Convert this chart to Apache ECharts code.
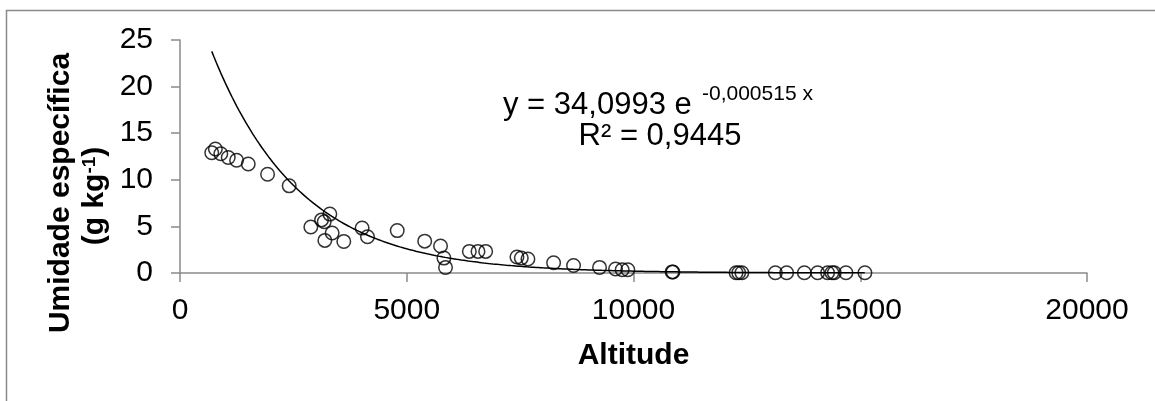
<!DOCTYPE html>
<html>
<head>
<meta charset="utf-8">
<script src="https://cdn.jsdelivr.net/npm/echarts@6/dist/echarts.min.js"></script>
<style>
  html, body { margin: 0; padding: 0; background: #fff; }
  #main { width: 1155px; height: 401px; }
</style>
</head>
<body>
<div id="main"></div>
<script>
// data
const altitude = [700, 780, 900, 1064, 1248, 1505, 1931, 2408, 2885, 3121, 3180, 3304, 3355, 3194, 3612,
  4016, 4134, 4790, 5396, 5745, 5820, 5855, 6380, 6571, 6740, 7430, 7526, 7672, 8238, 8678, 9251,
  9604, 9750, 9875, 10852, 10870, 12262, 12320, 12390, 13128, 13377, 13767, 14060, 14280, 14376,
  14427, 14685, 15103]
const humidity = [12.9, 13.3, 12.8, 12.4, 12.1, 11.7, 10.6, 9.35, 4.93, 5.7, 5.5, 6.32, 4.29, 3.5, 3.39,
  4.82, 3.89, 4.55, 3.42, 2.9, 1.6, 0.6, 2.32, 2.32, 2.32, 1.71, 1.6, 1.5, 1.1, 0.8, 0.6,
  0.43, 0.35, 0.35, 0.12, 0.1, 0.03, 0.03, 0.03, 0.02, 0.02, 0.02, 0.02, 0.02, 0.02,
  0.02, 0.02, 0.02]

// exponential fit shown on the chart
const fitA = 34.0993
const fitB = -0.000515
const fitFrom = 700
const fitTo = 15100

const eqLine1 = "y = 34,0993 e"
const eqSup = "-0,000515 x"
const eqLine2 = "R² = 0,9445"

const trend = []
for (let x = fitFrom; x <= fitTo; x += 50) trend.push([x, fitA * Math.exp(fitB * x)])

const font = "Liberation Sans, Arial, sans-serif"
const axisGray = "#8a8a8a"

const myChart = echarts.init(document.getElementById("main"))

myChart.setOption({
  animation: false,
  grid: { left: 180, top: 40, right: 68, bottom: 128 },
  xAxis: {
    type: "value", min: 0, max: 20000, interval: 5000,
    axisLine: { lineStyle: { color: axisGray, width: 1.5 } },
    axisTick: { length: 9, lineStyle: { color: axisGray, width: 1.5 } },
    axisLabel: { color: "#000", fontSize: 30, fontFamily: font, margin: 23, formatter: v => String(v) },
    splitLine: { show: false }
  },
  yAxis: {
    type: "value", min: 0, max: 25, interval: 5,
    axisLine: { show: true, lineStyle: { color: axisGray, width: 1.5 } },
    axisTick: { show: true, length: 9, lineStyle: { color: axisGray, width: 1.5 } },
    axisLabel: { color: "#000", fontSize: 30, fontFamily: font, margin: 27 },
    splitLine: { show: false }
  },
  series: [
    {
      type: "line",
      data: trend,
      showSymbol: false,
      lineStyle: { color: "#000", width: 1.5 },
      z: 2
    },
    {
      type: "scatter",
      data: altitude.map((x, i) => [x, humidity[i]]),
      symbol: "circle",
      symbolSize: 13.5,
      itemStyle: { color: "rgba(0,0,0,0)", borderColor: "#000", borderWidth: 1.5 },
      z: 3
    }
  ],
  graphic: [
    // chart area frame
    { type: "rect", shape: { x: 6.5, y: 10.5, width: 1300, height: 600 },
      style: { fill: "none", stroke: axisGray, lineWidth: 1.5 }, silent: true },
    // y title
    { type: "text", x: 61, y: 193, rotation: Math.PI / 2,
      style: { text: "Umidade específica", font: "bold 30px " + font, fill: "#000",
        align: "center", verticalAlign: "middle" } },
    { type: "text", x: 95, y: 196, rotation: Math.PI / 2,
      style: {
        text: "{b|(g kg}{s|-1}{b|)}", align: "center", verticalAlign: "middle",
        rich: {
          b: { font: "bold 30px " + font, fill: "#000" },
          s: { font: "bold 19px " + font, fill: "#000", verticalAlign: "top", padding: [0, 0, 10, 0] }
        }
      } },
    // x title
    { type: "text", x: 633.5, y: 356,
      style: { text: "Altitude", font: "bold 30px " + font, fill: "#000",
        align: "center", verticalAlign: "middle" } },
    // equation
    { type: "text", x: 503, y: 105,
      style: { text: eqLine1, font: "31px " + font, fill: "#000", align: "left", verticalAlign: "middle" } },
    { type: "text", x: 702, y: 94,
      style: { text: eqSup, font: "21px " + font, fill: "#000", align: "left", verticalAlign: "middle" } },
    { type: "text", x: 660, y: 136,
      style: { text: eqLine2, font: "31px " + font, fill: "#000", align: "center", verticalAlign: "middle" } }
  ]
})
window.onresize = () => myChart.resize()
</script>
</body>
</html>
